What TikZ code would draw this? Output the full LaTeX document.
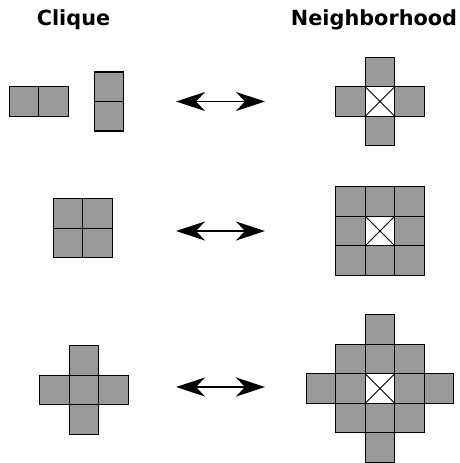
\documentclass[tikz,border=0pt]{standalone}
\usepackage{fontspec}
\setmainfont{DejaVu Sans}
\usetikzlibrary{arrows.meta}
\definecolor{cellgray}{RGB}{153,153,153}
\tikzset{
  cellbox/.style={draw=black, fill=cellgray, line width=1.3pt, minimum size=29.5pt, inner sep=0pt, outer sep=0pt},
  centerbox/.style={draw=black, fill=white, line width=1.3pt, minimum size=29.5pt, inner sep=0pt, outer sep=0pt},
  title/.style={font=\fontsize{20.8}{24}\selectfont\bfseries, anchor=base, inner sep=0pt},
  dblarrow/.style={line width=1.4pt, {Stealth[length=29pt,width=19pt,inset=9pt]}-{Stealth[length=29pt,width=19pt,inset=9pt]}}
}
\newcommand{\xcross}[1]{\draw[line width=0.8pt] (#1.north west) -- (#1.south east) (#1.north east) -- (#1.south west);}
\begin{document}
\begin{tikzpicture}[x=1pt,y=-1pt]
\useasboundingbox (0,0) rectangle (460,463);
\def\s{29.5}
% titles
\node[title] (tclique) at (73.5,25.5) {Clique};
\node[title] (tneigh) at (374,25.5) {Neighborhood};

% ---- row 1 ----
\node[cellbox] (a1) at (24,101.5) {};
\node[cellbox] (a2) at (53.5,101.5) {};
\node[cellbox] (b1) at (109,86.75) {};
\node[cellbox] (b2) at (109,116.25) {};
\coordinate (l1) at (176,101.5);
\coordinate (r1) at (265,101.5);
\draw[dblarrow] (l1) -- (r1);
\begin{scope}[shift={(380,101.5)}]
  \node[cellbox] (n1t) at (0,-\s) {};
  \node[cellbox] (n1b) at (0,\s) {};
  \node[cellbox] (n1l) at (-\s,0) {};
  \node[cellbox] (n1r) at (\s,0) {};
  \node[centerbox] (n1c) at (0,0) {};
  \xcross{n1c}
\end{scope}

% ---- row 2 ----
\node[cellbox] (c1) at (68,213.5) {};
\node[cellbox] (c2) at (97.5,213.5) {};
\node[cellbox] (c3) at (68,243) {};
\node[cellbox] (c4) at (97.5,243) {};
\coordinate (l2) at (176,231);
\coordinate (r2) at (265,231);
\draw[dblarrow] (l2) -- (r2);
\begin{scope}[shift={(380,231)}]
  \foreach \i in {-1,0,1}{
    \foreach \j in {-1,0,1}{
      \node[cellbox] (n2-\i-\j) at (\i*\s,\j*\s) {};
    }
  }
  \node[centerbox] (n2c) at (0,0) {};
  \xcross{n2c}
\end{scope}

% ---- row 3 ----
\begin{scope}[shift={(84,390)}]
  \node[cellbox] (d1) at (0,-\s) {};
  \node[cellbox] (d2) at (-\s,0) {};
  \node[cellbox] (d3) at (0,0) {};
  \node[cellbox] (d4) at (\s,0) {};
  \node[cellbox] (d5) at (0,\s) {};
\end{scope}
\coordinate (l3) at (176,387);
\coordinate (r3) at (265,387);
\draw[dblarrow] (l3) -- (r3);
\begin{scope}[shift={(380,388.5)}]
  \foreach \i/\j in {0/-2, -1/-1,0/-1,1/-1, -2/0,-1/0,1/0,2/0, -1/1,0/1,1/1, 0/2}{
    \node[cellbox] (n3-\i-\j) at (\i*\s,\j*\s) {};
  }
  \node[centerbox] (n3c) at (0,0) {};
  \xcross{n3c}
\end{scope}
\end{tikzpicture}
\end{document}
